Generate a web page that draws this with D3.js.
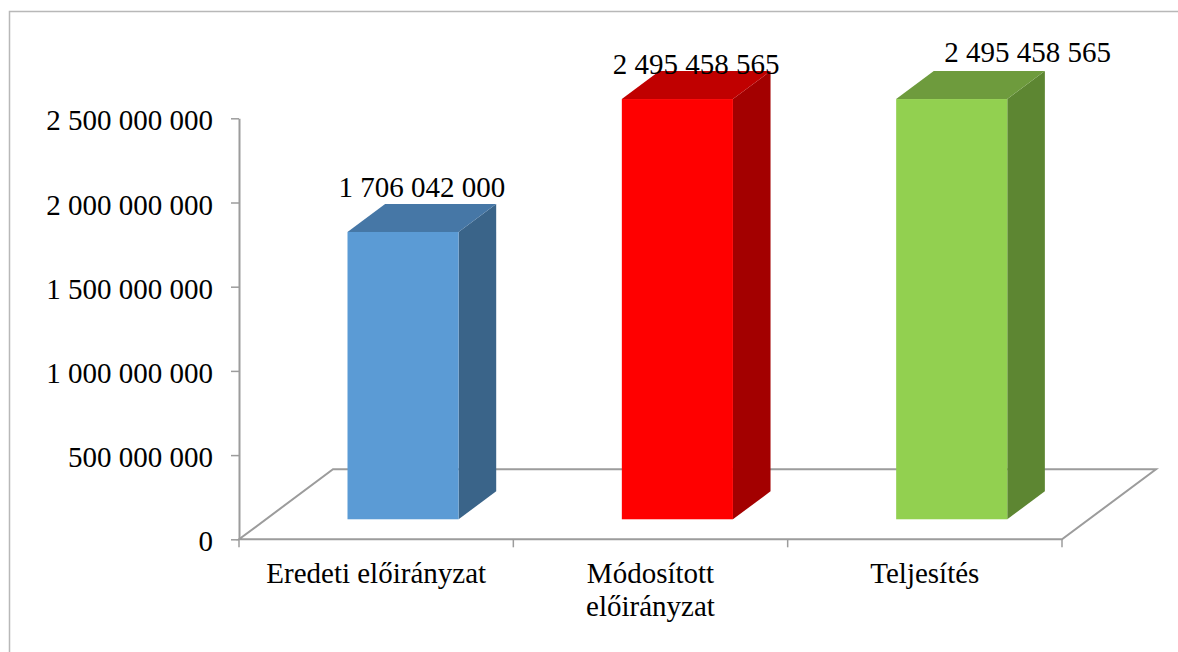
<!DOCTYPE html>
<html>
<head>
  <meta charset="utf-8">
  <script src="https://d3js.org/d3.v7.min.js"></script>
  <style>
    body { margin: 0; background: #fff; }
    svg text { font-family: 'Liberation Serif', 'Times New Roman', Times, serif; fill: #000; }
  </style>
</head>
<body>
<svg id="chart" width="1178" height="652"></svg>
<script>
  // data
  const categories = ["Eredeti előirányzat", "Módosított előirányzat", "Teljesítés"];
  const values = [1706042000, 2495458565, 2495458565];
  const tickValues = [0, 500000000, 1000000000, 1500000000, 2000000000, 2500000000];
  const frontColors = ["#5B9BD5", "#FF0000", "#92D050"];
  const topColors = ["#4677A6", "#C00000", "#6E9B3D"];
  const sideColors = ["#3A6489", "#A30000", "#5D8632"];

  const fontSize = 29;
  const serif = "'Liberation Serif', 'Times New Roman', Times, serif";
  const svg = d3.select("#chart").attr("font-family", serif);

  // frame, runs off the right and bottom edge like the original
  svg.append("rect")
    .attr("x", 9.5).attr("y", 11.5)
    .attr("width", 1200).attr("height", 700)
    .attr("fill", "#fff")
    .attr("stroke", "#B8B8B8")
    .attr("stroke-width", 1.5);

  const y = d3.scaleLinear().domain([0, 2500000000]).range([539.3, 118.3]);
  const x = d3.scaleBand().domain(categories).range([239, 1062]);

  // depth of floor (3d offset)
  const depthX = 94, depthY = -70;
  const f0 = 0.286, f1 = 0.686;
  const barFrac = 0.405;

  const fmt = v => d3.format(",")(v).replace(/,/g, "\u00a0");

  // floor
  const x0 = x.range()[0], x1 = x.range()[1], y0 = y(0);
  svg.append("path")
    .attr("d", `M${x0},${y0} L${x0 + depthX},${y0 + depthY} L${x1 + depthX},${y0 + depthY} L${x1},${y0} Z`)
    .attr("fill", "#fff")
    .attr("stroke", "#9C9C9C")
    .attr("stroke-width", 2);

  // value axis
  const yAxis = d3.axisLeft(y)
    .tickValues(tickValues)
    .tickFormat(fmt)
    .tickSize(8)
    .tickSizeOuter(0)
    .tickPadding(18);
  const ag = svg.append("g").attr("transform", `translate(${x0},0)`).call(yAxis);
  ag.attr("font-family", serif).attr("font-size", fontSize);
  ag.select(".domain").attr("stroke", "#9C9C9C").attr("stroke-width", 2);
  ag.selectAll(".tick line").attr("stroke", "#9C9C9C").attr("stroke-width", 1.5);
  ag.selectAll(".tick text")
    .attr("font-size", fontSize)
    .attr("font-family", serif)
    .attr("fill", "#000")
    .attr("dy", "0.40em");

  // category ticks at band edges
  const edges = categories.map(c => x(c)).concat([x1]);
  svg.selectAll(".ctick").data(edges).join("line")
    .attr("x1", d => d).attr("x2", d => d)
    .attr("y1", y0).attr("y2", y0 + 8)
    .attr("stroke", "#9C9C9C").attr("stroke-width", 1.5);

  // bars
  const bw = x.bandwidth() * barFrac;
  const bars = categories.map((c, i) => {
    const left = x(c) + (x.bandwidth() - bw) / 2 + f0 * depthX;
    const bottom = y(0) + f0 * depthY;
    const top = y(values[i]) + f0 * depthY;
    const dx = (f1 - f0) * depthX, dy = (f1 - f0) * depthY;
    return { i, left, right: left + bw, bottom, top, dx, dy };
  });

  const bg = svg.append("g");
  bg.selectAll(".side").data(bars).join("path")
    .attr("d", b => `M${b.right},${b.bottom} L${b.right + b.dx},${b.bottom + b.dy} L${b.right + b.dx},${b.top + b.dy} L${b.right},${b.top} Z`)
    .attr("fill", b => sideColors[b.i]);
  bg.selectAll(".top").data(bars).join("path")
    .attr("d", b => `M${b.left},${b.top} L${b.left + b.dx},${b.top + b.dy} L${b.right + b.dx},${b.top + b.dy} L${b.right},${b.top} Z`)
    .attr("fill", b => topColors[b.i]);
  bg.selectAll(".front").data(bars).join("rect")
    .attr("x", b => b.left).attr("y", b => b.top)
    .attr("width", bw).attr("height", b => b.bottom - b.top)
    .attr("fill", b => frontColors[b.i]);

  // value labels (Excel had two of them moved by hand)
  const labelNudge = [[0, 0], [0, 10], [57, -2]];
  svg.selectAll(".vlabel").data(bars).join("text")
    .attr("x", b => (b.left + b.right) / 2 + b.dx / 2 + labelNudge[b.i][0])
    .attr("y", b => b.top + b.dy - 7 + labelNudge[b.i][1])
    .attr("text-anchor", "middle")
    .attr("font-size", fontSize)
    .attr("font-family", serif)
    .text(b => fmt(values[b.i]));

  // category labels, wrapped when wider than the label room
  const lineH = 33;
  const labelRoom = x.bandwidth() * 0.85;
  categories.forEach(c => {
    const t = svg.append("text")
      .attr("x", x(c) + x.bandwidth() / 2)
      .attr("y", y0 + 44)
      .attr("text-anchor", "middle")
      .attr("font-size", fontSize)
      .attr("font-family", serif)
      .text(c);
    if (t.node().getComputedTextLength() > labelRoom) {
      const words = c.split(" ");
      t.text(null);
      words.forEach((w, k) => {
        t.append("tspan")
          .attr("x", x(c) + x.bandwidth() / 2)
          .attr("dy", k === 0 ? 0 : lineH)
          .text(w);
      });
    }
  });
</script>
</body>
</html>
